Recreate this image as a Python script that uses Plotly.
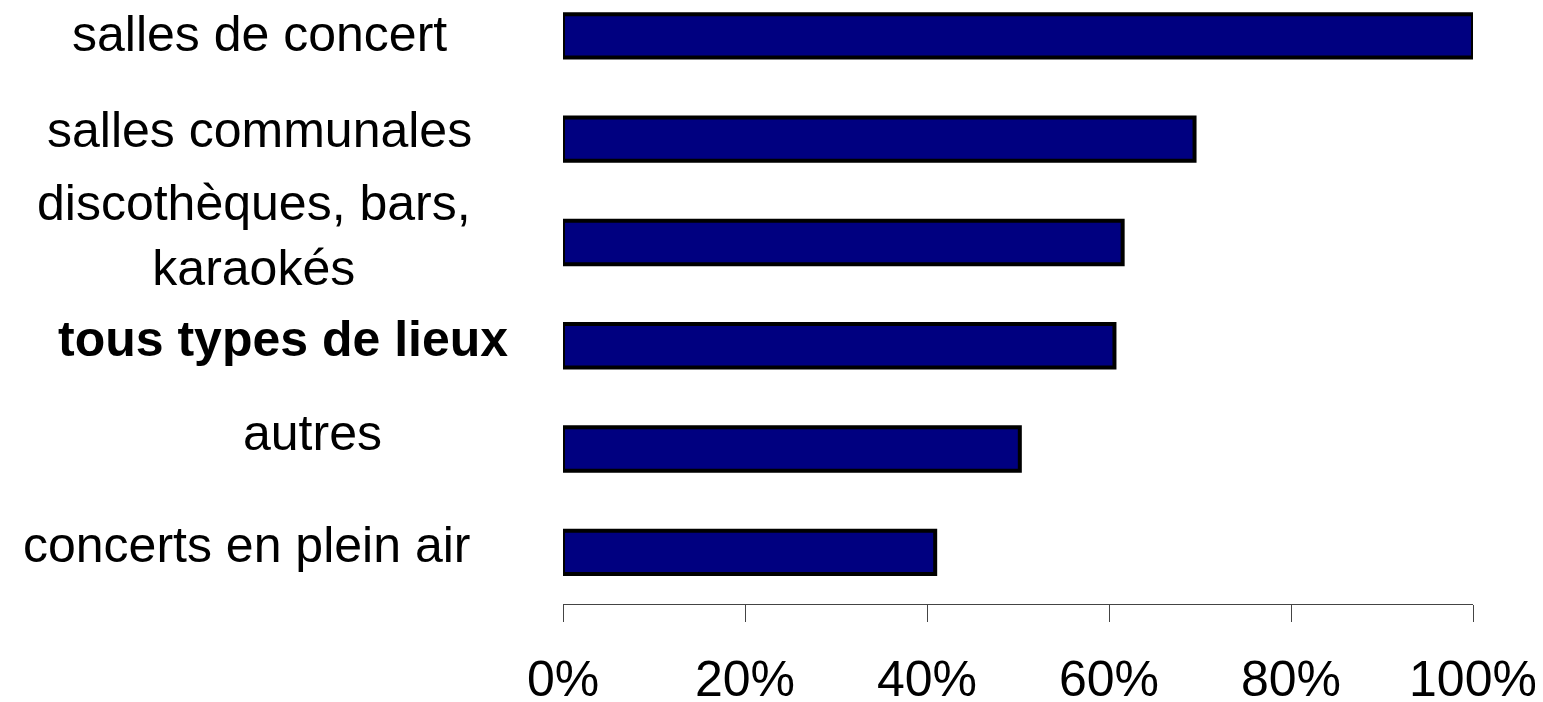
import plotly.graph_objects as go

# Data (bottom to top in the chart)
categories = [
    "concerts en plein air",
    "autres",
    "tous types de lieux",
    "discothèques, bars,<br>karaokés",
    "salles communales",
    "salles de concert",
]
values = [40.9, 50.2, 60.6, 61.5, 69.4, 100.0]
bold_flags = [False, False, True, False, False, False]

tick_vals = [0, 20, 40, 60, 80, 100]
tick_text = ["0%", "20%", "40%", "60%", "80%", "100%"]

# Label placement (style): horizontal centre in page px, vertical shift in px
label_cx = [246, 312, 283, 254, 259, 259]
label_dy = [7, 16, 7, 7, 9, 2]

BODY = 8          # default browser body margin around the plot div
PLOT_LEFT = 563   # page px of the plot area's left edge
FONT = "Liberation Sans, Arial, sans-serif"

fig = go.Figure()
fig.add_trace(go.Bar(
    x=values,
    y=categories,
    orientation="h",
    width=0.42,
    marker=dict(color="#000080", line=dict(color="#000000", width=4)),
    hoverinfo="skip",
))

annotations = []
for cat, cx, dy, b in zip(categories, label_cx, label_dy, bold_flags):
    annotations.append(dict(
        x=0, xref="paper", y=cat, yref="y",
        text=f"<b>{cat}</b>" if b else cat,
        showarrow=False, xanchor="center", yanchor="middle",
        xshift=cx - PLOT_LEFT, yshift=dy,
        font=dict(family=FONT, size=50, color="#000000"),
        align="center",
    ))

fig.update_layout(
    width=1543 - BODY, height=702 - BODY,
    margin=dict(l=PLOT_LEFT - BODY, r=70, t=0, b=98, autoexpand=False),
    paper_bgcolor="white", plot_bgcolor="white",
    showlegend=False,
    annotations=annotations,
    xaxis=dict(
        range=[0, 100],
        automargin=False,
        tickvals=tick_vals, ticktext=tick_text,
        showgrid=False, zeroline=False,
        showline=True, linecolor="#444444", linewidth=1,
        ticks="outside", ticklen=17, tickwidth=1, tickcolor="#444444",
        ticklabelstandoff=14,
        tickfont=dict(family=FONT, size=50, color="#000000"),
        fixedrange=True,
    ),
    yaxis=dict(
        type="category",
        automargin=False,
        categoryorder="array", categoryarray=categories,
        range=[-0.5, 5.27],
        showticklabels=False, showgrid=False, zeroline=False,
        showline=False, ticks="",
        fixedrange=True,
    ),
)

fig.write_html("out.html")
